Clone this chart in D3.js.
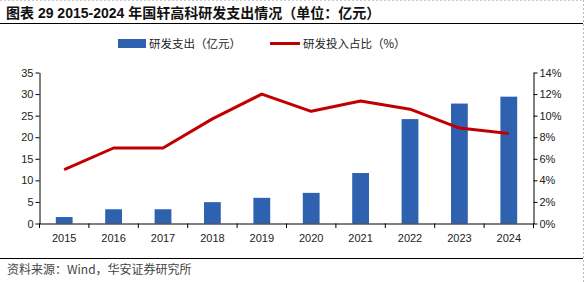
<!DOCTYPE html>
<html><head><meta charset="utf-8">
<script src="https://cdn.jsdelivr.net/npm/d3@7"></script>
<style>body{margin:0;background:#fff}svg{display:block}</style>
</head><body>
<script>
const years = ["2015","2016","2017","2018","2019","2020","2021","2022","2023","2024"];
const rdSpend = [1.5, 3.3, 3.3, 4.95, 5.95, 7.1, 11.7, 24.2, 27.8, 29.4];
const rdRatio = [5.0, 7.0, 7.0, 9.7, 12.0, 10.4, 11.35, 10.6, 8.85, 8.35];
const leftTicks = [0,5,10,15,20,25,30,35];
const rightTicks = [0,2,4,6,8,10,12,14];
const titleText = "图表 29 2015-2024 年国轩高科研发支出情况（单位：亿元）";
const legendNames = ["研发支出（亿元）","研发投入占比（%）"];
const sourceText = "资料来源：Wind，华安证券研究所";

const W=585,H=282;
const svg=d3.select("body").append("svg").attr("width",W).attr("height",H);
const font="'Liberation Sans', Arial, 'Noto Sans CJK SC', sans-serif";
const cjk="'Noto Sans CJK SC', sans-serif";

// borders
svg.append("line").attr("x1",583.5).attr("x2",583.5).attr("y1",0).attr("y2",H).attr("stroke","#bbb").attr("stroke-dasharray","2,2");
svg.append("line").attr("x1",0).attr("x2",584).attr("y1",0.5).attr("y2",0.5).attr("stroke","#ccc").attr("stroke-dasharray","2,2");

svg.append("text").attr("x",6).attr("y",17.5).attr("font-family","'Liberation Sans', 'Noto Sans CJK SC', sans-serif")
  .attr("font-weight","bold").attr("font-size",14).attr("fill","#111").text(titleText);
svg.append("line").attr("x1",0).attr("x2",583).attr("y1",23.5).attr("y2",23.5).attr("stroke","#000").attr("stroke-width",1.2);
svg.append("line").attr("x1",0).attr("x2",583).attr("y1",258.5).attr("y2",258.5).attr("stroke","#000").attr("stroke-width",1.2);
svg.append("text").attr("x",7).attr("y",274).attr("font-family",cjk).attr("font-size",12).attr("fill","#444").text(sourceText);

const x=d3.scaleBand().domain(years).range([39.5,533.5]).paddingInner(0.66).paddingOuter(0.33);
const xb=d3.scaleBand().domain(years).range([39.5,533.5]);
const yL=d3.scaleLinear().domain([0,35]).range([223.5,72.5]);
const yR=d3.scaleLinear().domain([0,14]).range([223.5,72.5]);

// bars
svg.append("g").selectAll("rect").data(years).join("rect")
  .attr("x",d=>x(d)).attr("width",x.bandwidth())
  .attr("y",(d,i)=>yL(rdSpend[i])).attr("height",(d,i)=>yL(0)-yL(rdSpend[i]))
  .attr("fill","#2E62B1");

// line
const line=d3.line().x((d,i)=>xb(years[i])+xb.bandwidth()/2).y(d=>yR(d));
svg.append("path").datum(rdRatio).attr("d",line).attr("fill","none")
  .attr("stroke","#C00000").attr("stroke-width",3).attr("stroke-linejoin","round");

// axes
const axL=svg.append("g").attr("transform","translate(39.5,0)")
  .call(d3.axisLeft(yL).tickValues(leftTicks).tickSize(4).tickSizeOuter(0));
const axR=svg.append("g").attr("transform","translate(533.5,0)")
  .call(d3.axisRight(yR).tickValues(rightTicks).tickSize(4).tickSizeOuter(0).tickFormat(d=>d+"%"));
const axX=svg.append("g").attr("transform","translate(0,223.5)")
  .call(d3.axisBottom(xb).tickSize(0).tickSizeOuter(0));
// x boundary ticks
svg.append("g").selectAll("line").data(years.concat(["end"])).join("line")
  .attr("x1",(d,i)=>39.5+i*xb.bandwidth()).attr("x2",(d,i)=>39.5+i*xb.bandwidth())
  .attr("y1",223.5).attr("y2",228).attr("stroke","#000");
axX.selectAll("text").attr("dy","1.45em");
[axL,axR,axX].forEach(a=>{
  a.selectAll("text").attr("font-family",font).attr("font-size",11).attr("fill","#222");
  a.selectAll("path,line").attr("stroke","#000");
});
axL.selectAll("text").attr("x",-6);
axR.selectAll("text").attr("x",6);

// legend
const lg=svg.append("g");
lg.append("rect").attr("x",118).attr("y",39).attr("width",28).attr("height",9).attr("fill","#2E62B1");
lg.append("text").attr("x",149).attr("y",47.5).attr("font-family",cjk).attr("font-size",11.5).attr("fill","#222").text(legendNames[0]);
lg.append("line").attr("x1",270).attr("x2",300).attr("y1",43.5).attr("y2",43.5).attr("stroke","#C00000").attr("stroke-width",3);
lg.append("text").attr("x",303).attr("y",47.5).attr("font-family",cjk).attr("font-size",11.5).attr("fill","#222").text(legendNames[1]);
</script>
</body></html>
